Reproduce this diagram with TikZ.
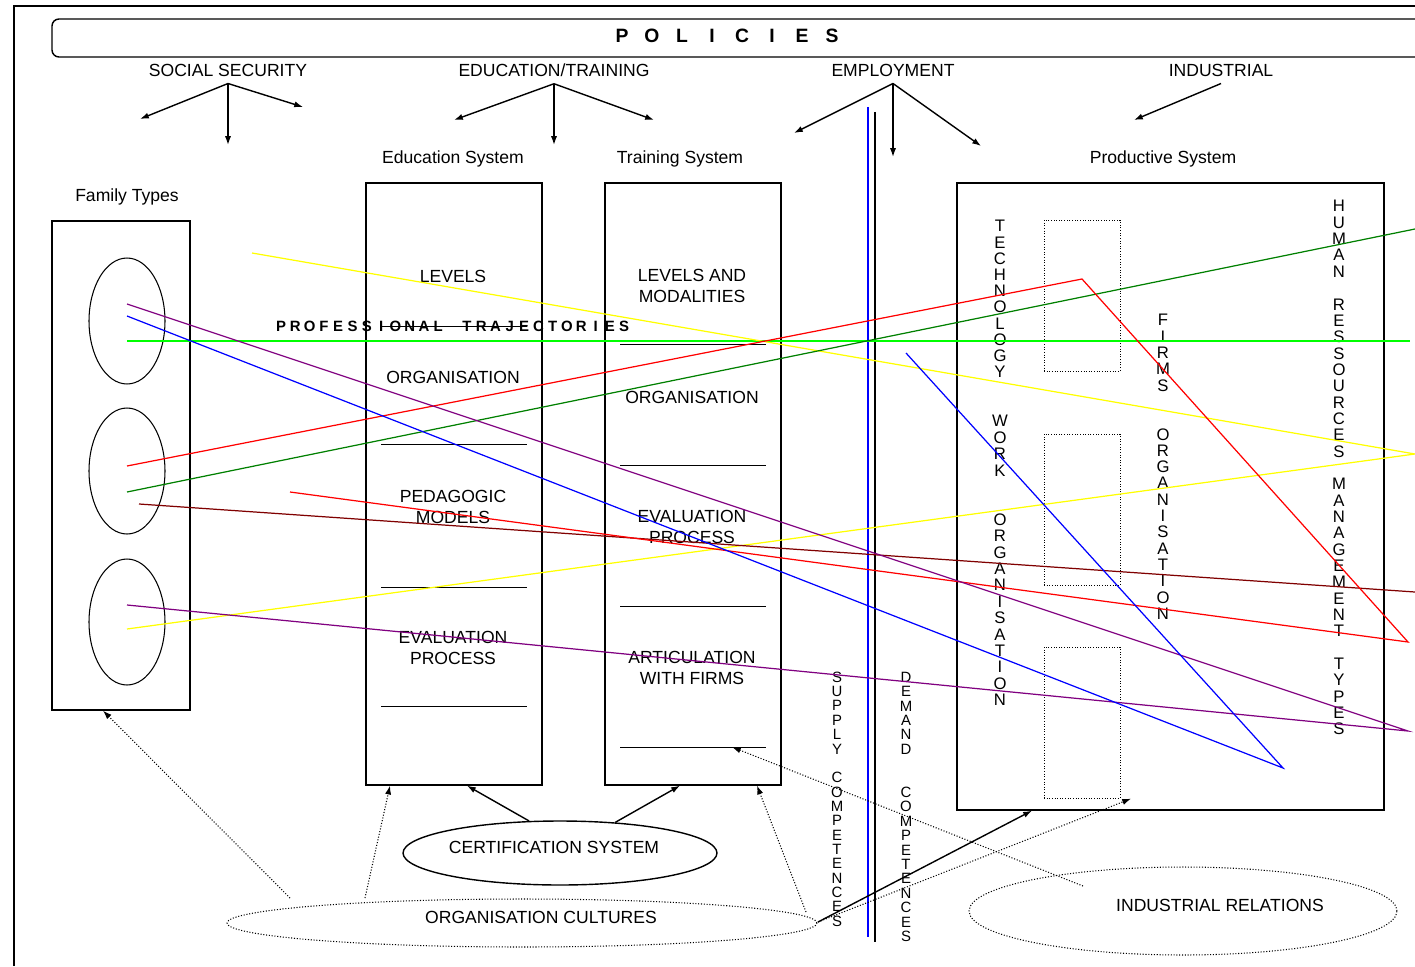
\documentclass[tikz,border=0pt]{standalone}
\usepackage{fontspec}
\setmainfont{Liberation Sans}
\usetikzlibrary{shapes.geometric,calc,arrows.meta}

\definecolor{tyellow}{RGB}{255,255,0}
\definecolor{tred}{RGB}{255,0,0}
\definecolor{tgreen}{RGB}{0,128,0}
\definecolor{tlime}{RGB}{0,255,0}
\definecolor{tpurple}{RGB}{128,0,128}
\definecolor{tblue}{RGB}{0,0,255}
\definecolor{tmaroon}{RGB}{128,0,0}

\tikzset{
  box/.style={draw,line width=0.8pt,inner sep=0pt},
  oval/.style={draw,ellipse,inner sep=0pt,line width=0.6pt},
  unit/.style={draw,densely dotted,line width=0.5pt,inner sep=0pt},
  head/.style={inner sep=4pt,text depth=0pt},
  txt/.style={align=center,inner sep=0pt,font=\fontsize{10}{11.5}\selectfont},
  letter/.style={inner sep=0pt,text height=6.8pt,text depth=0pt,font=\fontsize{9.5}{11}\selectfont},
  small/.style={inner sep=0pt,text height=6pt,text depth=0pt,font=\fontsize{8.5}{10}\selectfont},
  arr/.style={->,line width=0.8pt},
  darr/.style={->,densely dotted,line width=0.6pt},
  sep/.style={line width=0.5pt},
  trail/.style={line width=0.7pt},
}

% letters stacked one under the other
\newcommand{\vstack}[6][letter]{%
  \foreach \c [count=\i] in {#6}
    \node[#1] (#2\i) at (#3,{#4+#5*(\i-1)}) {\c};}

\begin{document}
\begin{tikzpicture}[x=0.02cm,y=-0.02cm,>={Latex[length=5pt,width=3.5pt]}]
\useasboundingbox (0,0) rectangle (1415,966);
\clip (0,0) rectangle (1415,966);

% frame and policies
\draw[line width=1.2pt] (14,966) -- (14,6) -- (1415,6);
\draw[line width=0.8pt,rounded corners=4pt] (52,19) rectangle (1450,57);
\foreach \c [count=\i] in {P,O,L,I,C,I,E,S}
  \node[font=\bfseries\fontsize{11}{13}\selectfont] (pol\i) at ({622+30*(\i-1)},36) {\c};

\node[head] (social) at (228,70) {SOCIAL SECURITY};
\node[head] (edutrain) at (554,70) {EDUCATION/TRAINING};
\node[head] (employ) at (893,70) {EMPLOYMENT};
\node[head] (indus) at (1221,70) {INDUSTRIAL};

\coordinate (ss1) at (140,119);
\coordinate (ss2) at (228,145);
\coordinate (ss3) at (303,107);
\coordinate (et1) at (454,120);
\coordinate (et2) at (554,145);
\coordinate (et3) at (654,120);
\coordinate (em1) at (794,133);
\coordinate (em2) at (893,157);
\coordinate (em3) at (981,146);
\coordinate (in1) at (1134,120);
\foreach \e in {ss1,ss2,ss3} \draw[arr] (social.south) -- (\e);
\foreach \e in {et1,et2,et3} \draw[arr] (edutrain.south) -- (\e);
\foreach \e in {em1,em2,em3} \draw[arr] (employ.south) -- (\e);
\draw[arr] (indus.south) -- (in1);

\node (famlab) at (127,197) {Family Types};
\node (edulab) at (453,159) {Education System};
\node (trainlab) at (680,159) {Training System};
\node (prodlab) at (1163,159) {Productive System};

% systems
\node[box,minimum width=2.76cm,minimum height=9.78cm] (family) at (121,465.5) {};
\node[box,minimum width=3.52cm,minimum height=12.04cm] (edusys) at (454,484) {};
\node[box,minimum width=3.52cm,minimum height=12.04cm] (trainsys) at (693,484) {};
\node[box,minimum width=8.54cm,minimum height=12.54cm] (prodsys) at (1170.5,496.5) {};

\foreach \y [count=\i] in {321,471,622}
  \node[oval,minimum width=1.52cm,minimum height=2.52cm] (fam\i) at (127,\y) {};
\foreach \y [count=\i] in {295.5,509.5,722.5}
  \node[unit,minimum width=1.52cm,minimum height=3.02cm] (unit\i) at (1082,\y) {};

\node[txt] (lev) at (453,276) {LEVELS};
\node[txt] (eorg) at (453,377) {ORGANISATION};
\node[txt] (ped) at (453,507) {PEDAGOGIC\\MODELS};
\node[txt] (eeval) at (453,648) {EVALUATION\\PROCESS};
\node[txt] (levmod) at (692,286) {LEVELS AND\\MODALITIES};
\node[txt] (torg) at (692,397) {ORGANISATION};
\node[txt] (teval) at (692,527) {EVALUATION\\PROCESS};
\node[txt] (artic) at (692,668) {ARTICULATION\\WITH FIRMS};
\foreach \y in {326,444,587,706} \draw[sep] (381,\y) -- (527,\y);
\foreach \y in {344,465,606,747} \draw[sep] (620,\y) -- (766,\y);

\foreach \c [count=\i] in {P,R,O,F,E,S,S,I,O,N,A,L,{},T,R,A,J,E,C,T,O,R,I,E,S}
  \node[inner sep=0pt,font=\bfseries\fontsize{8.5}{10}\selectfont] (pt\i) at ({281+14.3*(\i-1)},326) {\c};

\vstack{tech}{1000}{226}{16.2}{T,E,C,H,N,O,L,O,G,Y}
\vstack{work}{1000}{421}{16.4}{W,O,R,K,{},{},O,R,G,A,N,I,S,A,T,I,O,N}
\vstack{firm}{1163}{320}{16.3}{F,I,R,M,S,{},{},O,R,G,A,N,I,S,A,T,I,O,N}
\vstack{hrm}{1339}{206}{16.34}{H,U,M,A,N,{},R,E,S,S,O,U,R,C,E,S,{},M,A,N,A,G,E,M,E,N,T,{},T,Y,P,E,S}
\vstack[small]{supply}{837}{677}{14.35}{S,U,P,P,L,Y,{},C,O,M,P,E,T,E,N,C,E,S}
\vstack[small]{demand}{906}{677}{14.4}{D,E,M,A,N,D,{},{},C,O,M,P,E,T,E,N,C,E,S}

\draw[tblue,line width=0.7pt] (868,107) -- (868,937);
\draw[line width=0.6pt] (875,112) -- (875,942);

% trajectories
\coordinate (ystart) at (252,253);
\coordinate (ytip) at (1415,454);
\coordinate (rpeak) at (1082,279);
\coordinate (rtip) at (1408,642);
\coordinate (rend) at (290,492);
\coordinate (gend) at (1415,229);
\coordinate (ptip) at (1408,731);
\coordinate (btip) at (1283,768);
\coordinate (bend) at (906,353);
\coordinate (mend) at (1415,592);
\coordinate (lend) at (1410,341);
\draw[trail,tlime] ($(fam1)+(0,20)$) -- (lend);
\draw[trail,tyellow] (ystart) -- (ytip) -- ($(fam3)+(0,7)$);
\draw[trail,tgreen] ($(fam2)+(0,21)$) -- (gend);
\draw[trail,tmaroon] ($(fam2)+(12,33)$) -- (mend);
\draw[trail,tred] ($(fam2)+(0,-5)$) -- (rpeak) -- (rtip) -- (rend);
\draw[trail,tpurple] ($(fam1)+(0,-17)$) -- (ptip) -- ($(fam3)+(0,-17)$);
\draw[trail,tblue] ($(fam1)+(0,-5)$) -- (btip) -- (bend);

% bottom
\node[oval,line width=0.8pt,minimum width=6.28cm,minimum height=1.28cm] (cert) at (560,853) {};
\node (certtxt) at (554,847) {CERTIFICATION SYSTEM};
\node[oval,densely dotted,minimum width=11.8cm,minimum height=0.96cm] (orgcult) at (522,923) {};
\node (orgtxt) at (541,917) {ORGANISATION CULTURES};
\node[oval,densely dotted,minimum width=8.56cm,minimum height=1.76cm] (indrel) at (1183,911) {};
\node (irtxt) at (1220,905) {INDUSTRIAL RELATIONS};

\draw[arr] (cert.134) -- ($(edusys.south)+(13,0)$);
\draw[arr] (cert.29) -- ($(trainsys.south)+(-13,0)$);

\coordinate (oc1) at (290,898);
\coordinate (oc2) at (365,898);
\coordinate (oc3) at (806,912);
\coordinate (oc4) at (818,922);
\coordinate (ir1) at (1083,886);
\coordinate (artsep) at (732,747);
\draw[darr] (oc1) -- ($(family.south)+(-18,0)$);
\draw[darr] (oc2) -- ($(edusys.south)+(-64,0)$);
\draw[darr] (oc3) -- ($(trainsys.south)+(64,0)$);
\draw[darr] (ir1) -- (artsep);
\draw[arr] (oc4) -- ($(prodsys.south)+(-138.5,0)$);
\draw[darr] (oc4) -- ($(prodsys.south)+(-39.5,-12)$);
\end{tikzpicture}
\end{document}
